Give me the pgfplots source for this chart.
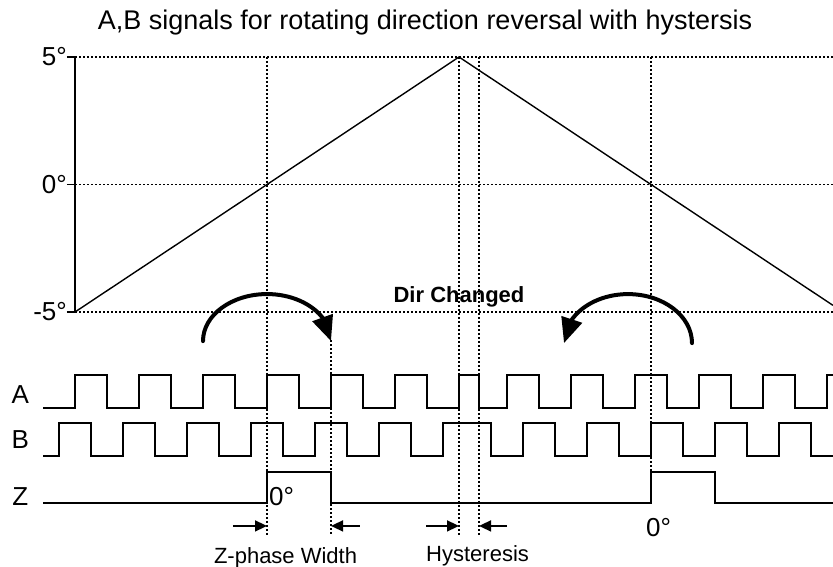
\documentclass[border=0pt]{standalone}
\usepackage{fontspec}
\setmainfont{Liberation Sans}
\usepackage{pgfplots}
\pgfplotsset{compat=1.18}
\usetikzlibrary{arrows.meta,bending}
\begin{document}
\begin{tikzpicture}
\tikzset{
  vline/.style={black, line width=1.1pt, dash pattern=on 2pt off 2pt},
  bigf/.style={font=\fontsize{26}{31}\selectfont},
  smallf/.style={font=\fontsize{22}{26}\selectfont},
  sig/.style={const plot, black, line width=1.6pt, mark=none},
}
\begin{axis}[
  at={(75pt,255pt)}, anchor=south west,
  width=758pt, height=255pt, scale only axis,
  xmin=0, xmax=47.375, ymin=-5, ymax=5,
  clip=false,
  axis x line=none,
  axis y line*=left,
  y axis line style={black, line width=1.4pt},
  ytick={-5,0,5},
  yticklabels={{-5°},{0°},{5°}},
  yticklabel style={bigf, inner sep=0pt, anchor=east},
  tick align=outside,
  major tick length=8pt,
  tick style={black, line width=1.4pt},
  ymajorgrids,
  grid style={black, line width=1.1pt, dash pattern=on 2pt off 2pt},
]
% angle (degrees) versus position
\addplot[black, line width=1.4pt, mark=none] coordinates {(0,-5) (24,5) (47.375,-4.74)};
% A signal
\addplot[sig] coordinates {(-2,-8.76) (0,-7.47) (2,-8.76) (4,-7.47) (6,-8.76) (8,-7.47) (10,-8.76) (12,-7.47) (14,-8.76) (16,-7.47) (18,-8.76) (20,-7.47) (22,-8.76) (24,-7.47) (25.25,-8.76) (27,-7.47) (29,-8.76) (31,-7.47) (33,-8.76) (35,-7.47) (37,-8.76) (39,-7.47) (41,-8.76) (43,-7.47) (45,-8.76) (47,-7.47) (47.375,-7.47)};
% B signal
\addplot[sig] coordinates {(-2,-10.65) (-1,-9.35) (1,-10.65) (3,-9.35) (5,-10.65) (7,-9.35) (9,-10.65) (11,-9.35) (13,-10.65) (15,-9.35) (17,-10.65) (19,-9.35) (21,-10.65) (23,-9.35) (26,-10.65) (28,-9.35) (30,-10.65) (32,-9.35) (34,-10.65) (36,-9.35) (38,-10.65) (40,-9.35) (42,-10.65) (44,-9.35) (46,-10.65) (47.375,-10.65)};
% Z signal
\addplot[sig] coordinates {(-2,-12.49) (12,-11.27) (16,-12.49) (36,-11.27) (40,-12.49) (47.375,-12.49)};
% vertical reference lines
\draw[vline] (axis cs:12,5) -- (axis cs:12,-13.75);
\draw[vline] (axis cs:16,-6.1) -- (axis cs:16,-13.75);
\draw[vline] (axis cs:24,5) -- (axis cs:24,-13.75);
\draw[vline] (axis cs:25.25,5) -- (axis cs:25.25,-13.75);
\draw[vline] (axis cs:36,5) -- (axis cs:36,-11.27);
% curved direction arrows
\draw[black, line width=4pt, line cap=round, -{Triangle[length=25pt,width=21pt,flex]}]
  (axis cs:8,-6.14) arc[start angle=180, end angle=0, x radius=64pt, y radius=47pt];
\draw[black, line width=4pt, line cap=round, -{Triangle[length=25pt,width=21pt,flex]}]
  (axis cs:38.5625,-6.22) arc[start angle=0, end angle=180, x radius=64pt, y radius=49pt];
\node[font=\bfseries\fontsize{22}{26}\selectfont] at (axis cs:24,-4.4) {Dir Changed};
% signal names
\node[bigf] at (axis cs:-3.42,-8.22) {A};
\node[bigf] at (axis cs:-3.42,-10.02) {B};
\node[bigf] at (axis cs:-3.42,-12.25) {Z};
\node[bigf, anchor=west, inner sep=0pt] at (axis cs:12.12,-12.25) {0°};
\node[bigf, anchor=west, inner sep=0pt] at (axis cs:35.69,-13.45) {0°};
% width arrows
\draw[black, line width=1.5pt, -{Triangle[length=12pt,width=11pt]}] (axis cs:9.87,-13.39) -- (axis cs:12,-13.39);
\draw[black, line width=1.5pt, -{Triangle[length=12pt,width=11pt]}] (axis cs:17.8,-13.39) -- (axis cs:16,-13.39);
\draw[black, line width=1.5pt, -{Triangle[length=12pt,width=11pt]}] (axis cs:21.94,-13.39) -- (axis cs:24,-13.39);
\draw[black, line width=1.5pt, -{Triangle[length=12pt,width=11pt]}] (axis cs:27,-13.39) -- (axis cs:25.25,-13.39);
\node[smallf, anchor=base] at (axis cs:13.16,-14.85) {Z-phase Width};
\node[smallf, anchor=base] at (axis cs:25.16,-14.8) {Hysteresis};
\end{axis}
\node[font=\fontsize{27}{32}\selectfont, anchor=base] at (425pt,537pt) {A,B signals for rotating direction reversal with hystersis};
\pgfresetboundingbox
\path[use as bounding box] (0pt,0pt) rectangle (833pt,567pt);
\end{tikzpicture}
\end{document}
